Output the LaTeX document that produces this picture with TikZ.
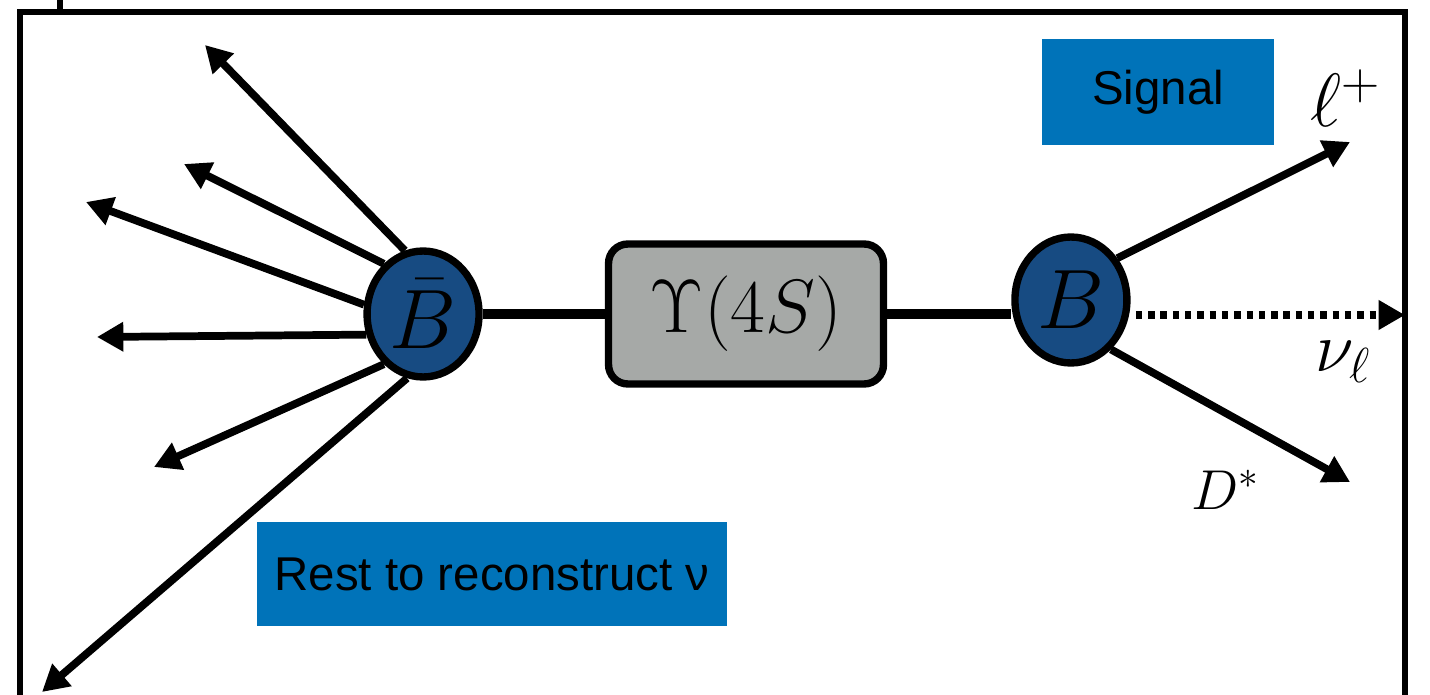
\RequirePackage{fix-cm}
\documentclass[tikz,border=0pt]{standalone}
\usepackage{amsmath,amssymb}
\usepackage{fontspec}
\setsansfont{Liberation Sans}
\usepackage{tikz}
\usetikzlibrary{arrows.meta,positioning,shapes.geometric}
\definecolor{mesonblue}{RGB}{23,75,130}
\definecolor{tagblue}{RGB}{0,115,185}
\definecolor{upsgray}{RGB}{166,169,167}
\tikzset{>/.tip={Triangle[length=15pt,width=16pt]}}
\tikzset{meson/.style={ellipse,draw,line width=4.2pt,fill=mesonblue,inner sep=0pt,minimum width=2.24cm,minimum height=2.52cm,font=\fontsize{48}{50}\selectfont}}
\tikzset{tag/.style={fill=tagblue,font=\sffamily\fontsize{27}{30}\selectfont}}

\begin{document}
\begin{tikzpicture}[x=0.02cm,y=-0.02cm,line width=4.4pt,on grid]
        \useasboundingbox (0,0) rectangle (1430,695);
        \draw[line width=3.6pt] (20,700) -- (20,12) -- (1405,12) -- (1405,700);
        \draw[line width=3.6pt] (60,0) -- (60,12);
        \node(ups)[draw,line width=4.2pt,rounded corners=11pt,fill=upsgray,minimum width=5.5cm,minimum height=2.8cm,font=\fontsize{43}{45}\selectfont] at (746,314) {$\Upsilon(4S)$};
        \node(Bbar)[meson,left=6.46cm of ups]{$\bar{B}$};
        \node(B)[meson,above right=0.28cm and 6.5cm of ups]{$B$};
        \draw[line width=6pt] (Bbar) -- (ups);
        \draw[line width=6pt] (ups.east) -- (B.west |- ups.east);
        \coordinate(p1) at (205,45);
        \coordinate(p2) at (184,164);
        \coordinate(p3) at (86,202);
        \coordinate(p4) at (97,337);
        \coordinate(p5) at (154,467);
        \coordinate(p6) at (42,692);
        \foreach \a/\p in {106/p1,128/p2,171/p3,200/p4,232/p5,256/p6}
          \draw[->] (Bbar.\a) -- (\p);
        \coordinate(lend) at (1350,142);
        \coordinate(dend) at (1350,482);
        \coordinate(nend) at (1405,315);
        \draw[->] (B.42) -- (lend);
        \draw[->] (B.-51) -- (dend);
        \draw[->,dash pattern=on 3.6pt off 3.4pt] ([xshift=3pt]B.east |- nend) -- (nend);
        \node(lep)[font=\fontsize{43}{45}\selectfont] at (1345,98) {$\ell^+$};
        \node(nu)[font=\fontsize{40}{42}\selectfont] at (1343,362) {$\nu_\ell$};
        \node(Dst)[font=\fontsize{32}{34}\selectfont] at (1225,490) {$D^*$};
        \node(sig)[tag,minimum width=4.66cm,minimum height=2.12cm] at (1158,92) {Signal};
        \node(rest)[tag,minimum width=9.4cm,minimum height=2.1cm] at (492,574) {Rest to reconstruct ν};
      \end{tikzpicture}
\end{document}
